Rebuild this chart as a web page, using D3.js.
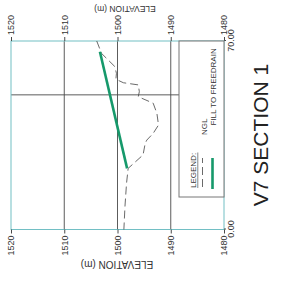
<!DOCTYPE html>
<html>
<head>
<meta charset="utf-8">
<script src="https://cdn.jsdelivr.net/npm/d3@7"></script>
<style>
  body { margin: 0; background: #fff; }
  svg { display: block; font-family: "Liberation Sans", Arial, sans-serif; }
</style>
</head>
<body>
<div id="chart"></div>
<script>
// NGL profile (chainage m, elevation m)
const nglChainage = [70, 65.4, 60.5, 58, 55.8, 54.5, 53.7, 51.2, 49.3, 46.9, 43.1, 38.8, 35.7, 33.2, 32, 27.7, 22.7, 17.2, 8.5, 0]
const nglElev     = [1503.9, 1503.0, 1500.5, 1500.2, 1500.3, 1498.9, 1496.1, 1495.9, 1496.1, 1493.3, 1492.6, 1492.3, 1493.3, 1494.5, 1494.8, 1495.2, 1498.0, 1498.3, 1498.6, 1498.8]
// fill to freedrain
const fillChainage = [66.0, 22.7]
const fillElev     = [1503.3, 1498.2]

const elevTicks  = [1480, 1490, 1500, 1510, 1520]
const chainTicks = [0, 70]
const chainGrid  = [50]

// the section is drawn as a normal chart and turned -90deg
const width = 188.5, height = 213

const svg = d3.select("#chart")
  .append("svg")
    .attr("width", 286)
    .attr("height", 286)

const g = svg.append("g")
  .attr("transform", "translate(11,229.5) rotate(-90)")

const x = d3.scaleLinear().domain([0, 70]).range([0, width])
const y = d3.scaleLinear().domain([1480, 1520]).range([height, 0])

// grid
g.selectAll(null)
  .data(elevTicks.slice(1, -1))
  .enter()
  .append("line")
  .attr("x1", 0).attr("x2", width)
  .attr("y1", d => y(d)).attr("y2", d => y(d))
  .style("stroke", "#4a4a4a")
  .style("stroke-width", 0.9)

g.selectAll(null)
  .data(chainGrid)
  .enter()
  .append("line")
  .attr("x1", d => x(d)).attr("x2", d => x(d))
  .attr("y1", 0).attr("y2", height)
  .style("stroke", "#4a4a4a")
  .style("stroke-width", 0.9)

// border
g.append("rect")
  .attr("x", 0).attr("y", 0)
  .attr("width", width).attr("height", height)
  .attr("fill", "none")
  .style("stroke", "#72bfc4")
  .style("stroke-width", 1)

// elevation axes (both sides)
const yl = g.append("g")
  .call(d3.axisLeft(y).tickValues(elevTicks).tickSize(4).tickPadding(2).tickFormat(d3.format("d")))
const yr = g.append("g")
  .attr("transform", "translate(" + width + ",0)")
  .call(d3.axisRight(y).tickValues(elevTicks).tickSize(4).tickPadding(2).tickFormat(d3.format("d")))
const xb = g.append("g")
  .attr("transform", "translate(0," + height + ")")
  .call(d3.axisBottom(x).tickValues(chainTicks).tickSize(2).tickPadding(2).tickFormat(d3.format(".2f")))

for (const a of [yl, yr, xb]) {
  a.attr("font-size", 9).attr("font-family", null)
  a.select(".domain").remove()
  a.selectAll("line").attr("stroke", "#4a4a4a")
  a.selectAll("text").attr("fill", "#333")
}

g.append("text")
  .attr("transform", "translate(-34.5,106) rotate(-90)")
  .attr("text-anchor", "middle")
  .attr("dominant-baseline", "central")
  .attr("font-size", 10)
  .attr("fill", "#333")
  .text("ELEVATION (m)")
g.append("text")
  .attr("transform", "translate(" + (width + 32) + ",114) rotate(-90)")
  .attr("text-anchor", "middle")
  .attr("dominant-baseline", "central")
  .attr("font-size", 8.5)
  .attr("fill", "#333")
  .text("ELEVATION (m)")

// profiles
const line = d3.line().x(d => x(d[0])).y(d => y(d[1]))

g.append("path")
  .datum(d3.zip(nglChainage, nglElev))
  .attr("d", line)
  .attr("fill", "none")
  .style("stroke", "#444")
  .style("stroke-width", 0.8)
  .style("stroke-dasharray", "8,4")

g.append("path")
  .datum(d3.zip(fillChainage, fillElev))
  .attr("d", line)
  .attr("fill", "none")
  .style("stroke", "#16996b")
  .style("stroke-width", 2.6)

// legend
const lg = g.append("g")
lg.append("rect")
  .attr("x", 32.5).attr("y", 168)
  .attr("width", width - 32.5).attr("height", height - 168)
  .attr("fill", "#fff")
  .style("stroke", "#777")
  .style("stroke-width", 1)
lg.append("text")
  .attr("x", 41.5).attr("y", 185)
  .attr("font-size", 8)
  .attr("fill", "#333")
  .text("LEGEND:")
lg.append("line")
  .attr("x1", 41.5).attr("x2", 77)
  .attr("y1", 186.8).attr("y2", 186.8)
  .style("stroke", "#333").style("stroke-width", 0.6)
lg.append("line")
  .attr("x1", 42.5).attr("x2", 71.5)
  .attr("y1", 191.5).attr("y2", 191.5)
  .style("stroke", "#444").style("stroke-width", 0.8)
  .style("stroke-dasharray", "8,4")
lg.append("text")
  .attr("x", 94.5).attr("y", 196)
  .attr("font-size", 8)
  .attr("fill", "#333")
  .text("NGL")
lg.append("line")
  .attr("x1", 40.5).attr("x2", 71.5)
  .attr("y1", 201.5).attr("y2", 201.5)
  .style("stroke", "#16996b").style("stroke-width", 2.6)
lg.append("text")
  .attr("x", 104).attr("y", 205)
  .attr("font-size", 8)
  .attr("fill", "#333")
  .text("FILL TO FREEDRAIN")

// title
svg.append("text")
  .attr("transform", "translate(268,135) rotate(-90)")
  .attr("text-anchor", "middle")
  .attr("font-size", 21)
  .attr("fill", "#222")
  .text("V7 SECTION 1")
</script>
</body>
</html>
